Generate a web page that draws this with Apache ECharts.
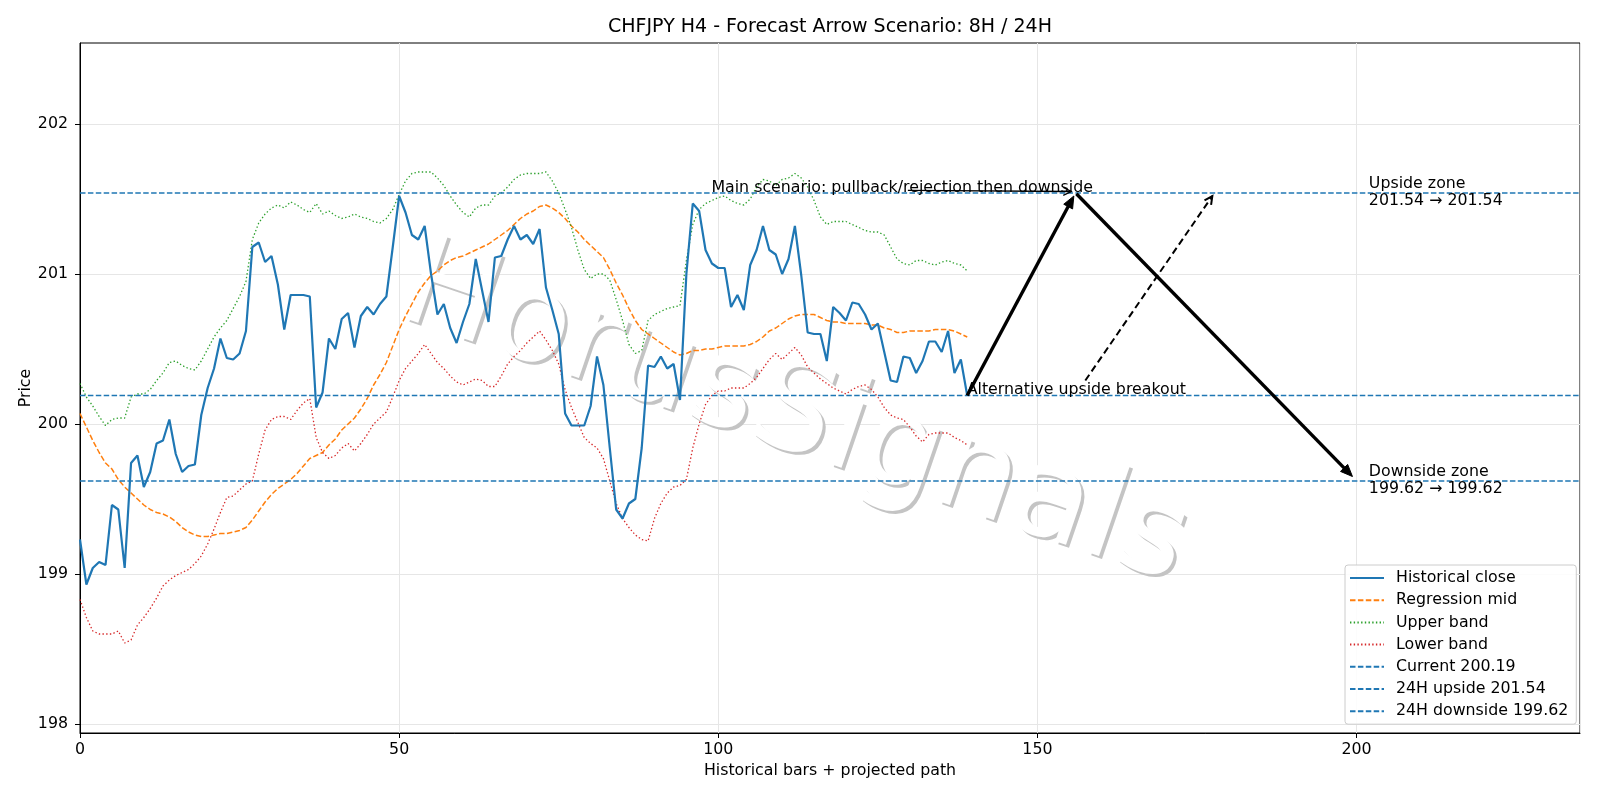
<!DOCTYPE html>
<html lang="en" style="height: 100%">
<head>
  <meta charset="utf-8">
</head>
<body style="height: 100%; margin: 0">
  <div id="container" style="width: 1600px; height: 800px"></div>

  <script type="text/javascript" src="https://cdn.jsdelivr.net/npm/echarts@6/dist/echarts.min.js"></script>
  <script type="text/javascript">
    // price data, one value per H4 bar (0..139)
    var histClose = [
      199.23, 198.93, 199.04, 199.08, 199.06, 199.46, 199.43, 199.04, 199.74, 199.79,
      199.58, 199.68, 199.87, 199.89, 200.03, 199.80, 199.68, 199.72, 199.73, 200.06,
      200.24, 200.37, 200.57, 200.44, 200.43,
      200.47, 200.62, 201.18, 201.21, 201.08, 201.12, 200.93, 200.63, 200.86, 200.86,
      200.86, 200.85, 200.11, 200.21, 200.57, 200.50, 200.70, 200.74, 200.51, 200.72,
      200.78, 200.73, 200.80, 200.85,
      201.18, 201.52, 201.41, 201.26, 201.23, 201.32, 201.00, 200.73, 200.80, 200.64,
      200.54, 200.68, 200.80, 201.10, 200.89, 200.68, 201.11, 201.12, 201.23, 201.32,
      201.23, 201.26, 201.20,
      201.30, 200.91, 200.76, 200.60, 200.07, 199.99, 199.99, 199.99, 200.12, 200.45,
      200.26, 199.84, 199.43, 199.37, 199.47, 199.50, 199.84, 200.39, 200.38, 200.45,
      200.37, 200.40, 200.16,
      201.00, 201.47, 201.42, 201.16, 201.07, 201.04, 201.04, 200.78, 200.86, 200.76,
      201.06, 201.16, 201.32, 201.16, 201.13, 201.00, 201.10, 201.32, 200.99, 200.61,
      200.60, 200.60, 200.42, 200.78,
      200.74, 200.69, 200.81, 200.80, 200.73, 200.63, 200.67, 200.48, 200.29, 200.28,
      200.45, 200.44, 200.34, 200.42, 200.55, 200.55, 200.48, 200.62, 200.34, 200.43,
      200.19
    ];
    var regMid = [
      200.07, 199.98, 199.89, 199.81, 199.74, 199.70, 199.63, 199.58, 199.54, 199.50,
      199.46, 199.43, 199.41, 199.40, 199.38, 199.35, 199.31, 199.28, 199.26, 199.25,
      199.25, 199.26, 199.27, 199.27, 199.28,
      199.29, 199.31, 199.36, 199.42, 199.48, 199.53, 199.57, 199.60, 199.63, 199.67,
      199.72, 199.77, 199.79, 199.81, 199.86, 199.90, 199.96, 200.00, 200.04, 200.10,
      200.17, 200.26, 200.33, 200.41,
      200.52, 200.63, 200.72, 200.80, 200.88, 200.94, 200.99, 201.02, 201.06, 201.09,
      201.11, 201.12, 201.14, 201.16, 201.18, 201.20, 201.23, 201.26, 201.29, 201.33,
      201.37, 201.40, 201.42,
      201.45, 201.46, 201.44, 201.41, 201.37, 201.32, 201.28, 201.23, 201.19, 201.15,
      201.11, 201.03, 200.94, 200.86, 200.77, 200.69, 200.63, 200.60, 200.57, 200.54,
      200.51, 200.48, 200.46,
      200.47, 200.49, 200.49, 200.50, 200.50, 200.51, 200.52, 200.52, 200.52, 200.52,
      200.53, 200.55, 200.58, 200.62, 200.64, 200.67, 200.70, 200.72, 200.73, 200.73,
      200.73, 200.71, 200.69, 200.68,
      200.68, 200.67, 200.67, 200.67, 200.67, 200.66, 200.66, 200.64, 200.63, 200.61,
      200.61, 200.62, 200.62, 200.62, 200.62, 200.63, 200.63, 200.63, 200.62, 200.60,
      200.58
    ];
    var upperBand = [
      200.27, 200.18, 200.12, 200.05, 199.99, 200.03, 200.04, 200.04, 200.18, 200.20,
      200.20, 200.23, 200.29, 200.34, 200.41, 200.42, 200.39, 200.37, 200.36, 200.42,
      200.50, 200.58, 200.64, 200.69, 200.77,
      200.85, 200.95, 201.23, 201.34, 201.40, 201.44, 201.46, 201.44, 201.48, 201.46,
      201.43, 201.41, 201.47, 201.40, 201.42, 201.39, 201.37, 201.38, 201.40, 201.38,
      201.37, 201.35, 201.34, 201.37,
      201.43, 201.53, 201.62, 201.67, 201.68, 201.68, 201.68, 201.64, 201.59, 201.52,
      201.46, 201.41, 201.38, 201.44, 201.46, 201.46, 201.52, 201.54, 201.58, 201.63,
      201.66, 201.67, 201.67,
      201.67, 201.68, 201.62, 201.54, 201.43, 201.31, 201.16, 201.03, 200.97, 201.00,
      201.00, 200.96, 200.83, 200.69, 200.53, 200.47, 200.49, 200.69, 200.73, 200.75,
      200.77, 200.78, 200.79,
      201.09, 201.33, 201.43, 201.47, 201.49, 201.51, 201.52, 201.49, 201.47, 201.46,
      201.50, 201.58, 201.63, 201.62, 201.59, 201.63, 201.64, 201.67, 201.64, 201.58,
      201.49, 201.38, 201.33, 201.35,
      201.35, 201.35, 201.33, 201.31, 201.29, 201.28, 201.28, 201.26, 201.18, 201.10,
      201.07, 201.06, 201.09, 201.09, 201.07, 201.06, 201.08, 201.09, 201.07, 201.06,
      201.02
    ];
    var lowerBand = [
      198.83, 198.71, 198.62, 198.60, 198.60, 198.60, 198.62, 198.54, 198.56, 198.66,
      198.71, 198.77, 198.84, 198.92, 198.96, 198.99, 199.01, 199.03, 199.07, 199.12,
      199.20, 199.30, 199.41, 199.51, 199.52,
      199.56, 199.60, 199.62, 199.80, 199.96, 200.03, 200.05, 200.05, 200.03, 200.09,
      200.14, 200.17, 199.91, 199.81, 199.77, 199.79, 199.84, 199.87, 199.82, 199.87,
      199.93, 200.00, 200.04, 200.08,
      200.18, 200.29, 200.37, 200.42, 200.47, 200.53, 200.47, 200.41, 200.37, 200.32,
      200.28, 200.26, 200.28, 200.30, 200.29, 200.25, 200.25, 200.32, 200.40, 200.45,
      200.49, 200.54, 200.58,
      200.62, 200.56, 200.49, 200.40, 200.23, 200.11, 200.01, 199.91, 199.87, 199.84,
      199.77, 199.62, 199.47, 199.37, 199.31, 199.26, 199.23, 199.22, 199.37, 199.47,
      199.54, 199.58, 199.59,
      199.63, 199.84, 200.00, 200.13, 200.19, 200.22, 200.22, 200.24, 200.24, 200.24,
      200.27, 200.31, 200.37, 200.43, 200.47, 200.43, 200.47, 200.51, 200.46, 200.38,
      200.34, 200.30, 200.27, 200.24,
      200.22, 200.20, 200.23, 200.25, 200.26, 200.23, 200.18, 200.11, 200.06, 200.04,
      200.03, 199.98, 199.92, 199.88, 199.93, 199.94, 199.94, 199.94, 199.91, 199.89,
      199.86
    ];

    // levels
    var currentPrice = 200.19;
    var upside24h = 201.54;
    var downside24h = 199.62;

    // axis ranges and ticks
    var xMin = 0, xMax = 235;
    var yMin = 197.94, yMax = 202.54;
    var yTicks = [198, 199, 200, 201, 202];

    // projected arrows: from -> to in data coords
    var arrowFrom = [[139, 200.19], [156.1, 201.535], [157.5, 200.29], [129.7, 201.558]];
    var arrowTo = [[155.7, 201.52], [199.35, 199.65], [177.4, 201.52], [155.3, 201.55]];
    var arrowKind = ['thick', 'thick', 'dashed', 'thin'];

    // annotation texts and anchors
    var noteText = [
      'Main scenario: pullback/rejection then downside',
      'Alternative upside breakout',
      'Upside zone\n' + upside24h.toFixed(2) + ' \u2192 ' + upside24h.toFixed(2),
      'Downside zone\n' + downside24h.toFixed(2) + ' \u2192 ' + downside24h.toFixed(2)
    ];
    var noteAt = [[99, upside24h], [139, currentPrice], [202, upside24h], [202, downside24h]];

    var FONT = '"DejaVu Sans", "Liberation Sans", sans-serif';
    var FS = 15.8;
    var BLUE = '#1f77b4';

    var dom = document.getElementById('container');
    var myChart = echarts.init(dom, null, { renderer: 'canvas' });

    function toPairs(arr) {
      return arr.map(function (v, i) { return [i, v]; });
    }
    function hline(v) {
      return [[xMin, v], [xMax, v]];
    }

    var arrowStyles = {
      thick: { width: 3.4, dash: null, head: 12, half: 5, filled: true },
      dashed: { width: 2, dash: [7, 4], head: 8, half: 4, filled: false },
      thin: { width: 1.3, dash: null, head: 8, half: 4, filled: false }
    };

    function renderArrow(params, api) {
      var a = api.coord([api.value(0), api.value(1)]);
      var b = api.coord([api.value(2), api.value(3)]);
      var st = arrowStyles[arrowKind[params.dataIndex]];
      var dx = b[0] - a[0], dy = b[1] - a[1];
      var len = Math.sqrt(dx * dx + dy * dy);
      var ux = dx / len, uy = dy / len;
      var bx = b[0] - ux * st.head, by = b[1] - uy * st.head;
      var px = -uy * st.half, py = ux * st.half;
      var end = st.filled ? [bx + ux * 2, by + uy * 2] : b;
      var kids = [{
        type: 'line',
        shape: { x1: a[0], y1: a[1], x2: end[0], y2: end[1] },
        style: { stroke: '#000', lineWidth: st.width, lineDash: st.dash, fill: null }
      }];
      if (st.filled) {
        kids.push({
          type: 'polygon',
          shape: { points: [[b[0], b[1]], [bx + px, by + py], [bx - px, by - py]] },
          style: { fill: '#000', stroke: '#000', lineWidth: 1 }
        });
      } else {
        kids.push({
          type: 'polyline',
          shape: { points: [[bx + px, by + py], [b[0], b[1]], [bx - px, by - py]] },
          style: { stroke: '#000', lineWidth: st.width, fill: null }
        });
      }
      return { type: 'group', children: kids };
    }

    var noteData = noteText.map(function (t, i) {
      var twoLine = t.indexOf('\n') >= 0;
      return {
        name: t,
        value: noteAt[i],
        label: twoLine
          ? { verticalAlign: 'middle', lineHeight: 17, offset: [0, 0] }
          : { verticalAlign: 'bottom', lineHeight: FS, offset: [0, 3] }
      };
    });

    var lineBase = { type: 'line', symbol: 'none', showSymbol: false, silent: true, animation: false };

    var option = {
      animation: false,
      backgroundColor: '#ffffff',
      textStyle: { fontFamily: FONT },
      graphic: [
        {
          type: 'text', x: 797, y: 420, rotation: -0.33, z: 1, silent: true,
          style: { text: 'HorusSignals', font: '126px ' + FONT, fill: '#c4c4c4', align: 'center', verticalAlign: 'middle' }
        },
        {
          type: 'text', x: 794, y: 417, rotation: -0.33, z: 1, silent: true,
          style: { text: 'HorusSignals', font: '126px ' + FONT, fill: '#ffffff', align: 'center', verticalAlign: 'middle' }
        },
        {
          type: 'text', x: 830, y: 27, z: 10, silent: true,
          style: { text: 'CHFJPY H4 - Forecast Arrow Scenario: 8H / 24H', font: '19px ' + FONT, fill: '#000', align: 'center', verticalAlign: 'middle' }
        }
      ],
      grid: {
        left: 80, right: 20, top: 43, bottom: 67,
        show: true, borderColor: '#000', borderWidth: 1, backgroundColor: 'transparent'
      },
      legend: {
        orient: 'vertical',
        left: 1345, top: 565,
        padding: [5, 8, 5, 4],
        itemGap: 6.2, itemWidth: 34, itemHeight: 14,
        backgroundColor: 'rgba(255,255,255,0.85)',
        borderColor: '#cccccc', borderWidth: 1, borderRadius: 3,
        selectedMode: false,
        itemStyle: { opacity: 0 },
        textStyle: { fontSize: FS, fontFamily: FONT, color: '#000', padding: [0, 0, 0, 7] },
        data: ['Historical close', 'Regression mid', 'Upper band', 'Lower band',
          'Current ' + currentPrice.toFixed(2), '24H upside ' + upside24h.toFixed(2), '24H downside ' + downside24h.toFixed(2)]
      },
      xAxis: {
        type: 'value', min: xMin, max: xMax, interval: 50,
        name: 'Historical bars + projected path', nameLocation: 'middle', nameGap: 30,
        nameMoveOverlap: false,
        nameTextStyle: { fontSize: FS, color: '#000', fontFamily: FONT },
        axisLine: { show: true, onZero: false, lineStyle: { color: '#000', width: 1 } },
        axisTick: { show: true, length: 5, lineStyle: { color: '#000' } },
        axisLabel: { fontSize: FS, color: '#000', margin: 9, showMaxLabel: false, fontFamily: FONT },
        splitLine: { show: true, lineStyle: { color: '#e6e6e6', width: 1 } }
      },
      yAxis: {
        type: 'value', min: yMin, max: yMax,
        name: 'Price', nameLocation: 'middle', nameGap: 46,
        nameMoveOverlap: false,
        nameTextStyle: { fontSize: FS, color: '#000', fontFamily: FONT },
        axisLine: { show: true, onZero: false, lineStyle: { color: '#000', width: 1 } },
        axisTick: { show: true, length: 5, customValues: yTicks, lineStyle: { color: '#000' } },
        axisLabel: { fontSize: FS, color: '#000', margin: 12, customValues: yTicks, fontFamily: FONT },
        splitLine: { show: true, lineStyle: { color: '#e6e6e6', width: 1 } }
      },
      series: [
        Object.assign({}, lineBase, {
          name: 'Historical close', data: toPairs(histClose), z: 5,
          lineStyle: { color: BLUE, width: 2.2 }, itemStyle: { color: BLUE }
        }),
        Object.assign({}, lineBase, {
          name: 'Regression mid', data: toPairs(regMid), z: 4,
          lineStyle: { color: '#ff7f0e', width: 1.5, type: [5.5, 2.4] }, itemStyle: { color: '#ff7f0e' }
        }),
        Object.assign({}, lineBase, {
          name: 'Upper band', data: toPairs(upperBand), z: 4,
          lineStyle: { color: '#2ca02c', width: 1.3, type: [1.4, 2.3] }, itemStyle: { color: '#2ca02c' }
        }),
        Object.assign({}, lineBase, {
          name: 'Lower band', data: toPairs(lowerBand), z: 4,
          lineStyle: { color: '#d62728', width: 1.3, type: [1.4, 2.3] }, itemStyle: { color: '#d62728' }
        }),
        Object.assign({}, lineBase, {
          name: 'Current ' + currentPrice.toFixed(2), data: hline(currentPrice), z: 4,
          lineStyle: { color: BLUE, width: 1.4, type: [5.5, 2.4] }, itemStyle: { color: BLUE }
        }),
        Object.assign({}, lineBase, {
          name: '24H upside ' + upside24h.toFixed(2), data: hline(upside24h), z: 4,
          lineStyle: { color: BLUE, width: 1.4, type: [5.5, 2.4] }, itemStyle: { color: BLUE }
        }),
        Object.assign({}, lineBase, {
          name: '24H downside ' + downside24h.toFixed(2), data: hline(downside24h), z: 4,
          lineStyle: { color: BLUE, width: 1.4, type: [5.5, 2.4] }, itemStyle: { color: BLUE }
        }),
        {
          type: 'custom', name: 'arrows', silent: true, z: 6,
          renderItem: renderArrow,
          encode: { x: [0, 2], y: [1, 3] },
          data: arrowFrom.map(function (p, i) { return [p[0], p[1], arrowTo[i][0], arrowTo[i][1]]; })
        },
        {
          type: 'scatter', name: 'notes', silent: true, z: 7,
          symbolSize: 1,
          itemStyle: { color: 'rgba(0,0,0,0)', opacity: 1 },
          label: {
            show: true, position: [0, 0], align: 'left',
            fontSize: FS, color: '#000', fontFamily: FONT, opacity: 1,
            formatter: function (p) { return p.name; }
          },
          data: noteData
        }
      ]
    };

    myChart.setOption(option);
    window.addEventListener('resize', myChart.resize);
  </script>
</body>
</html>
